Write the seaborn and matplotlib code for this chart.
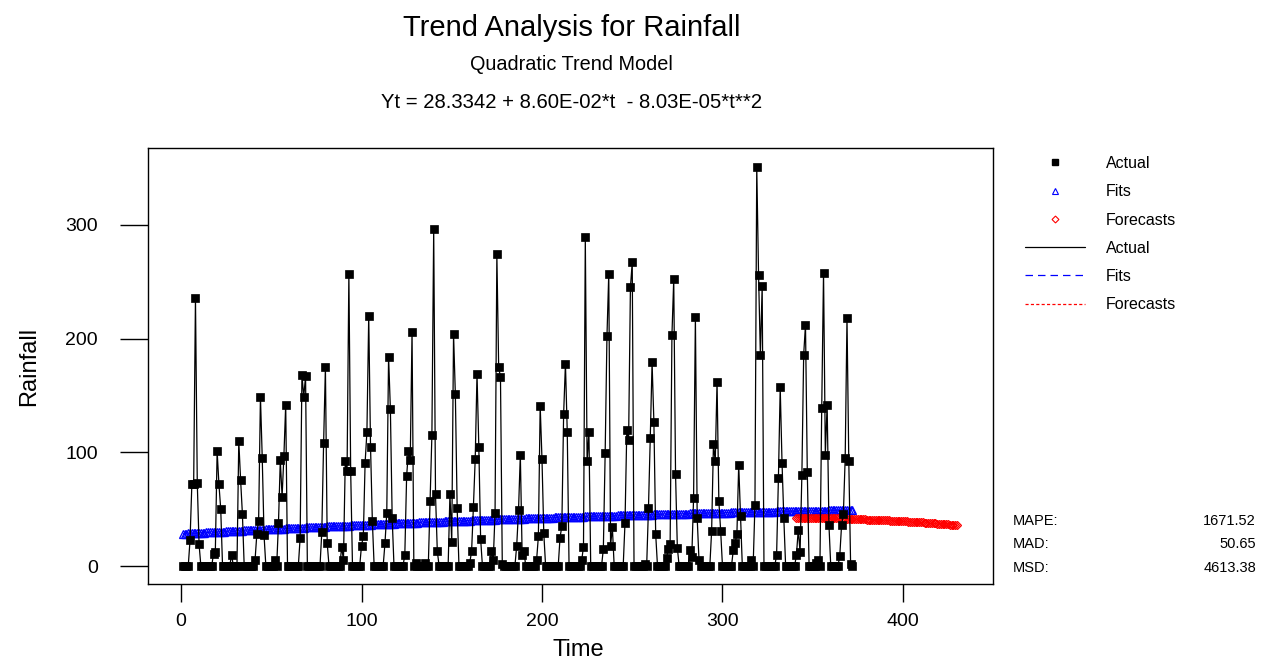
import numpy as np
import matplotlib
matplotlib.use('Agg')
import matplotlib.pyplot as plt
from matplotlib.lines import Line2D
import seaborn as sns

# monthly rainfall, one row per year (Jan..Dec)
rainfall = [
    0, 0, 0, 0, 23, 72, 72, 236, 73, 19, 0, 0,
    0, 0, 0, 0, 0, 11, 12, 101, 72, 50, 0, 0,
    0, 0, 0, 10, 0, 0, 0, 110, 76, 46, 0, 0,
    0, 0, 0, 0, 5, 28, 40, 149, 95, 27, 0, 0,
    0, 0, 0, 5, 0, 38, 93, 61, 97, 142, 0, 0,
    0, 0, 0, 0, 0, 25, 168, 149, 167, 0, 0, 0,
    0, 0, 0, 0, 0, 30, 108, 175, 20, 0, 0, 0,
    0, 0, 0, 0, 17, 5, 92, 84, 257, 84, 0, 0,
    0, 0, 0, 18, 26, 91, 118, 220, 105, 40, 0, 0,
    0, 0, 0, 0, 20, 47, 184, 138, 42, 0, 0, 0,
    0, 0, 0, 10, 79, 101, 93, 206, 0, 3, 0, 0,
    0, 0, 3, 0, 0, 57, 115, 296, 63, 13, 0, 0,
    0, 0, 0, 0, 63, 21, 204, 151, 51, 0, 0, 0,
    0, 0, 0, 3, 13, 52, 94, 169, 105, 24, 0, 0,
    0, 0, 0, 13, 5, 47, 274, 175, 166, 2, 0, 0,
    0, 0, 0, 0, 0, 18, 49, 98, 10, 13, 0, 0,
    0, 0, 0, 0, 5, 26, 141, 94, 29, 0, 0, 0,
    0, 0, 0, 0, 0, 25, 35, 134, 178, 118, 0, 0,
    0, 0, 0, 0, 0, 5, 17, 289, 92, 118, 0, 0,
    0, 0, 0, 0, 0, 15, 99, 202, 257, 18, 34, 0,
    0, 0, 0, 0, 0, 38, 120, 111, 245, 267, 0, 0,
    0, 0, 0, 0, 2, 0, 51, 113, 179, 127, 28, 0,
    0, 0, 0, 0, 7, 15, 19, 203, 252, 81, 16, 0,
    0, 0, 0, 0, 0, 14, 8, 60, 219, 42, 5, 0,
    0, 0, 0, 0, 0, 31, 107, 92, 162, 57, 31, 0,
    0, 0, 0, 0, 0, 14, 20, 28, 89, 44, 0, 0,
    0, 0, 0, 5, 0, 54, 351, 256, 186, 246, 0, 0,
    0, 0, 0, 0, 0, 10, 77, 157, 91, 42, 0, 0,
    0, 0, 0, 0, 10, 32, 12, 80, 186, 212, 83, 0,
    0, 0, 0, 3, 5, 0, 139, 258, 98, 142, 36, 0,
    0, 0, 0, 0, 9, 36, 46, 95, 218, 92, 2, 0,
]

# coefficients of the quadratic trend printed on the chart
trend_coefs = [28.3342, 8.60e-02, -8.03e-05]

# forecast values as drawn (red diamonds), starting at period 341
forecast_start = 341
forecasts = [
    42.5, 42.5, 42.5, 42.5, 42.4, 42.4, 42.4, 42.4, 42.3, 42.3,
    42.3, 42.3, 42.2, 42.2, 42.2, 42.1, 42.1, 42.1, 42.0, 42.0,
    42.0, 41.9, 41.9, 41.8, 41.8, 41.7, 41.7, 41.6, 41.6, 41.5,
    41.5, 41.4, 41.4, 41.3, 41.3, 41.2, 41.1, 41.1, 41.0, 40.9,
    40.9, 40.8, 40.7, 40.7, 40.6, 40.5, 40.5, 40.4, 40.3, 40.2,
    40.1, 40.1, 40.0, 39.9, 39.8, 39.7, 39.6, 39.6, 39.5, 39.4,
    39.3, 39.2, 39.1, 39.0, 38.9, 38.8, 38.7, 38.6, 38.5, 38.4,
    38.3, 38.2, 38.0, 37.9, 37.8, 37.7, 37.6, 37.5, 37.4, 37.3,
    37.1, 37.0, 36.9, 36.8, 36.6, 36.5, 36.4, 36.3, 36.1, 36.0,
]

accuracy = [('MAPE:', '1671.52'), ('MAD:', '50.65'), ('MSD:', '4613.38')]

t = np.arange(1, len(rainfall) + 1)
b0, b1, b2 = trend_coefs
fits = b0 + b1 * t + b2 * t ** 2
t_fc = np.arange(forecast_start, forecast_start + len(forecasts))

sns.set_style('white')
plt.rcParams['font.family'] = ['Liberation Sans', 'DejaVu Sans']
for key in ['text.color', 'axes.labelcolor', 'xtick.color', 'ytick.color']:
    plt.rcParams[key] = 'black'

fig = plt.figure(figsize=(12.7, 6.61), dpi=100)
ax = fig.add_axes([148 / 1270, 1 - 584 / 661, 845 / 1270, 436 / 661])

# fits and forecasts first, actual on top
sns.lineplot(x=t, y=fits, ax=ax, color='blue', linestyle='--', linewidth=0.8,
             marker='^', markersize=5.5, markerfacecolor='none',
             markeredgecolor='blue', markeredgewidth=0.9, estimator=None)
sns.lineplot(x=t_fc, y=forecasts, ax=ax, color='red', linestyle='--', linewidth=0.8,
             marker='D', markersize=4.5, markerfacecolor='none',
             markeredgecolor='red', markeredgewidth=0.9, estimator=None)
sns.lineplot(x=t, y=rainfall, ax=ax, color='black', linewidth=0.9,
             marker='s', markersize=5.5, markeredgecolor='black',
             markeredgewidth=0.5, estimator=None)

ax.set_xlim(-18.3, 449.9)
ax.set_ylim(-15.8, 367.6)
ax.set_xticks([0, 100, 200, 300, 400])
ax.set_yticks([0, 100, 200, 300])
ax.tick_params(axis='y', direction='out', length=20, width=1, pad=16,
               labelsize=14, left=True, color='black')
ax.tick_params(axis='x', direction='out', length=13, width=1, pad=8,
               labelsize=14, bottom=True, color='black')
for s in ax.spines.values():
    s.set_color('black')
    s.set_linewidth(1)

ax.set_xlabel('Time', fontsize=17)
ax.set_ylabel('Rainfall', fontsize=17)
ax.xaxis.set_label_coords(0.509, -0.125)
ax.yaxis.set_label_coords(-0.128, 0.5)

fig.text(0.45, 1 - 28 / 661, 'Trend Analysis for Rainfall', ha='center', va='center', fontsize=21)
fig.text(0.45, 1 - 64 / 661, 'Quadratic Trend Model', ha='center', va='center', fontsize=14.3)
fig.text(0.45, 1 - 102 / 661, 'Yt = 28.3342 + 8.60E-02*t  - 8.03E-05*t**2',
         ha='center', va='center', fontsize=14.6)

handles = [
    Line2D([], [], linestyle='none', marker='s', markersize=4, color='black'),
    Line2D([], [], linestyle='none', marker='^', markersize=4, markerfacecolor='none',
           markeredgecolor='blue', markeredgewidth=0.8),
    Line2D([], [], linestyle='none', marker='D', markersize=3.5, markerfacecolor='none',
           markeredgecolor='red', markeredgewidth=0.8),
    Line2D([], [], color='black', linewidth=0.9),
    Line2D([], [], color='blue', linewidth=0.9, dashes=(6, 4)),
    Line2D([], [], color='red', linewidth=0.9, dashes=(2.5, 1.8)),
]
labels = ['Actual', 'Fits', 'Forecasts', 'Actual', 'Fits', 'Forecasts']
fig.legend(handles, labels, loc='upper left', bbox_to_anchor=(1025 / 1270, 1 - 156 / 661),
           frameon=False, fontsize=11.5, handlelength=3.75, handletextpad=1.3,
           labelspacing=0.83, borderpad=0, borderaxespad=0)

for i, (name, val) in enumerate(accuracy):
    y = 1 - (521 + 23.5 * i) / 661
    fig.text(1013 / 1270, y, name, ha='left', va='center', fontsize=10.5)
    fig.text(1256 / 1270, y, val, ha='right', va='center', fontsize=10.5)

fig.savefig('out.png', dpi=100)
